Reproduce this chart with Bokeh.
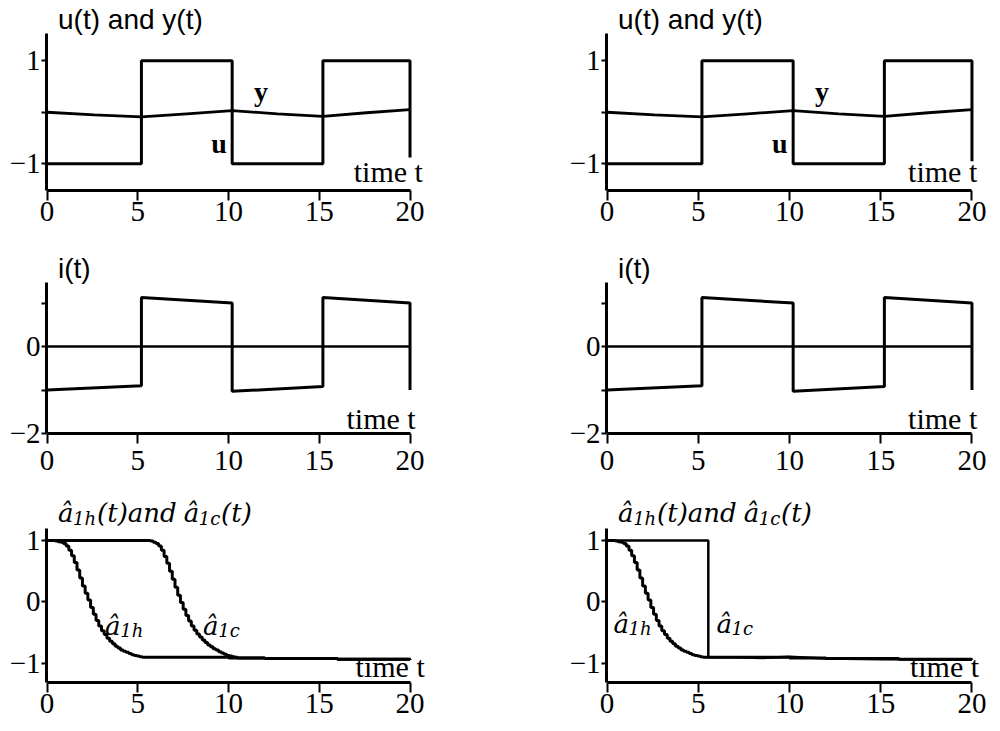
from bokeh.plotting import figure
from bokeh.layouts import column, row
from bokeh.models import Range1d, FixedTicker, Label
from bokeh.embed import file_html
from bokeh.resources import INLINE

# ---------------- data ----------------
x_ticks = [0, 5, 10, 15, 20]

# row 1: input u(t) and output y(t)
t_u = [0, 5.2, 5.2, 10.2, 10.2, 15.2, 15.2, 20, 20]
u_left = [-1, -1, 1, 1, -1, -1, 1, 1, -0.88]
u_right = [-1, -1, 1, 1, -1, -1, 1, 1, -0.95]
t_y = [0, 2.6, 5.2, 7.7, 10.2, 12.7, 15.2, 17.6, 20]
y_out = [0.0, -0.05, -0.09, -0.03, 0.03, -0.03, -0.08, -0.01, 0.05]

# row 2: i(t)
t_i = [0, 5.2, 5.2, 10.2, 10.2, 15.2, 15.2, 20, 20]
i_vals = [-1.0, -0.9, 1.13, 1.0, -1.03, -0.92, 1.13, 1.0, -1.0]
t_zero = [0, 20]
zero_vals = [0, 0]

# row 3: estimates a1h and a1c
t_h = [0.00, 0.15, 0.30, 0.45, 0.60, 0.75, 0.90, 1.05, 1.20, 1.35, 1.50, 1.65,
       1.80, 1.95, 2.10, 2.25, 2.40, 2.55, 2.70, 2.85, 3.00, 3.15, 3.30, 3.45,
       3.60, 3.75, 3.90, 4.05, 4.20, 4.35, 4.50, 4.65, 4.80, 4.95, 5.10, 5.25,
       6.0, 8.0, 10.0, 12.0, 14.0, 16.0, 18.0, 20.0]
a1h = [1.00, 1.00, 1.00, 0.99, 0.98, 0.97, 0.95, 0.91, 0.84, 0.75, 0.64, 0.52,
       0.39, 0.26, 0.14, 0.03, -0.09, -0.20, -0.30, -0.39, -0.47, -0.53, -0.59, -0.64,
       -0.68, -0.72, -0.75, -0.78, -0.80, -0.82, -0.84, -0.86, -0.87, -0.88, -0.89, -0.90,
       -0.90, -0.90, -0.91, -0.92, -0.92, -0.93, -0.93, -0.94]

t_c = [0.0, 5.40, 5.55, 5.70, 5.85, 6.00, 6.15, 6.30, 6.45, 6.60, 6.75, 6.90,
       7.05, 7.20, 7.35, 7.50, 7.65, 7.80, 7.95, 8.10, 8.25, 8.40, 8.55, 8.70,
       8.85, 9.00, 9.15, 9.30, 9.45, 9.60, 9.75, 9.90, 10.05, 10.20, 10.35, 10.50,
       12.0, 14.0, 16.0, 18.0, 20.0]
a1c_left = [1.00, 1.00, 1.00, 0.99, 0.97, 0.95, 0.91, 0.84, 0.74, 0.63, 0.50, 0.37,
            0.24, 0.11, -0.01, -0.12, -0.22, -0.31, -0.39, -0.46, -0.52, -0.57, -0.62, -0.66,
            -0.70, -0.73, -0.76, -0.78, -0.81, -0.83, -0.85, -0.87, -0.88, -0.89, -0.90, -0.91,
            -0.92, -0.92, -0.93, -0.93, -0.94]

t_c2 = [0, 5.55, 5.55, 7.0, 8.5, 10.0, 12.0, 15.0, 20.0]
a1c_right = [1.0, 1.0, -0.9, -0.9, -0.91, -0.89, -0.92, -0.93, -0.94]

SERIF = "Liberation Serif"
SANS = "Liberation Sans"
MATH = "DejaVu Serif"
DY = 9  # baseline correction (px)


def make_fig(fw, fh, bl, br, bb, x_end, ylo, yhi, ytop, yticks, yover, xstand):
    # frame extends above the y axis (room for the panel title) and to the right of t=20
    p = figure(frame_width=fw, frame_height=fh,
               x_range=Range1d(-0.03, x_end), y_range=Range1d(ylo, ytop),
               output_backend="svg", toolbar_location=None,
               min_border_left=bl, min_border_right=br,
               min_border_top=0, min_border_bottom=bb)
    p.xgrid.visible = False
    p.ygrid.visible = False
    p.outline_line_color = None
    p.background_fill_color = "white"
    p.border_fill_color = "white"
    for ax in (p.xaxis[0], p.yaxis[0]):
        ax.axis_line_width = 3
        ax.axis_line_color = "black"
        ax.major_tick_line_width = 2
        ax.major_tick_line_color = "black"
        ax.major_tick_in = 0
        ax.minor_tick_in = 0
        ax.minor_tick_out = 0
        ax.major_label_text_font = SERIF
        ax.major_label_text_font_size = "29px"
        ax.major_label_text_color = "black"
    p.xaxis.ticker = FixedTicker(ticks=x_ticks)
    p.xaxis.bounds = (0, 20)
    p.xaxis.major_tick_out = 10
    p.xaxis.major_label_standoff = xstand
    p.yaxis.ticker = FixedTicker(ticks=yticks)
    p.yaxis.bounds = (ylo, yhi)
    p.yaxis.major_label_overrides = yover
    p.yaxis.major_tick_out = 5
    p.yaxis.major_label_standoff = 1
    return p


def lab(p, x, y, text, xo=0, yo=0, font=SERIF, size=30, style="normal", align="left"):
    p.add_layout(Label(x=x, y=y, x_offset=xo, y_offset=yo + DY, text=text,
                       text_font=font, text_font_style=style,
                       text_font_size=f"{size}px", text_color="black",
                       text_align=align, text_baseline="alphabetic"))


def add_ahat(p, x, y, sub, xo=0, yo=0, size=26):
    lab(p, x, y, "â", xo=xo, yo=yo, font=MATH, size=size, style="italic")
    lab(p, x, y, sub, xo=xo + 0.58 * size, yo=yo - 5, font=MATH,
        size=int(size * 0.7), style="italic")


def add_math_title(p, ytop):
    S, s = 26, 18
    yo = 6
    x = 11
    add_ahat(p, 0, ytop, "1h", xo=x, yo=yo, size=S)
    x += 0.58 * S + (0.636 + 0.64) * s + 1
    lab(p, 0, ytop, "(t)and", xo=x, yo=yo, font=MATH, size=S, style="italic")
    x += 3.06 * S + 7
    add_ahat(p, 0, ytop, "1c", xo=x, yo=yo, size=S)
    x += 0.58 * S + (0.636 + 0.55) * s + 1
    lab(p, 0, ytop, "(t)", xo=x, yo=yo, font=MATH, size=S, style="italic")


figs = []
for side in ("left", "right"):
    if side == "left":
        fw, bl, br, x_end = 394, 46, 120, 21.68
    else:
        fw, bl, br, x_end = 389, 46, 5, 21.29

    # row 1  (figure 0..243 px, frame 0..190 px, axis -1.52..1.52)
    p1 = make_fig(fw, 190, bl, br, 53, x_end, -1.52, 1.52, 2.17,
                  [-1, 0, 1], {-1: "−1", 0: "", 1: "1"}, 1)
    u = u_left if side == "left" else u_right
    p1.line(t_u, u, line_color="black", line_width=3)
    p1.line(t_y, y_out, line_color="black", line_width=2.8)
    lab(p1, 0, 1.52, "u(t) and y(t)", xo=11, yo=5, font=SANS, size=28)
    lab(p1, 11.4, 0.22, "y", size=28, style="bold")
    lab(p1, 9.9, -0.79, "u", size=28, style="bold", align="right")
    lab(p1, 16.9 if side == "left" else 16.5, -1.33, "time t")

    # row 2  (figure 243..486 px, frame 243..433 px, axis -2..1.47)
    p2 = make_fig(fw, 190, bl, br, 53, x_end, -2.0, 1.47, 2.37,
                  [-2, -1, 0, 1], {-2: "−2", -1: "", 0: "0", 1: ""}, 7)
    p2.line(t_zero, zero_vals, line_color="black", line_width=2.5)
    p2.line(t_i, i_vals, line_color="black", line_width=3)
    lab(p2, 0, 1.47, "i(t)", xo=11, yo=5, font=SANS, size=28)
    lab(p2, 16.5, -1.86, "time t")

    # row 3  (figure 486..731 px, frame 486..682 px, axis -1.31..1.2)
    p3 = make_fig(fw, 196, bl, br, 49, x_end, -1.31, 1.2, 1.877,
                  [-1, 0, 1], {-1: "−1", 0: "0", 1: "1"}, 1)
    p3.step(t_h, a1h, mode="after", line_color="black", line_width=3)
    if side == "left":
        p3.step(t_c, a1c_left, mode="after", line_color="black", line_width=3)
        add_ahat(p3, 3.2, -0.53, "1h")
        add_ahat(p3, 8.6, -0.53, "1c")
        lab(p3, 17.0, -1.2, "time t")
    else:
        p3.line(t_c2, a1c_right, line_color="black", line_width=2.5)
        add_ahat(p3, 0.35, -0.5, "1h")
        add_ahat(p3, 6.0, -0.5, "1c")
        lab(p3, 16.6, -1.2, "time t")
    add_math_title(p3, 1.2)

    figs.append((p1, p2, p3))

(l1, l2, l3), (r1, r2, r3) = figs
layout = column(row(l1, r1), row(l2, r2), row(l3, r3))

open("out.html", "w").write(file_html(layout, INLINE))
